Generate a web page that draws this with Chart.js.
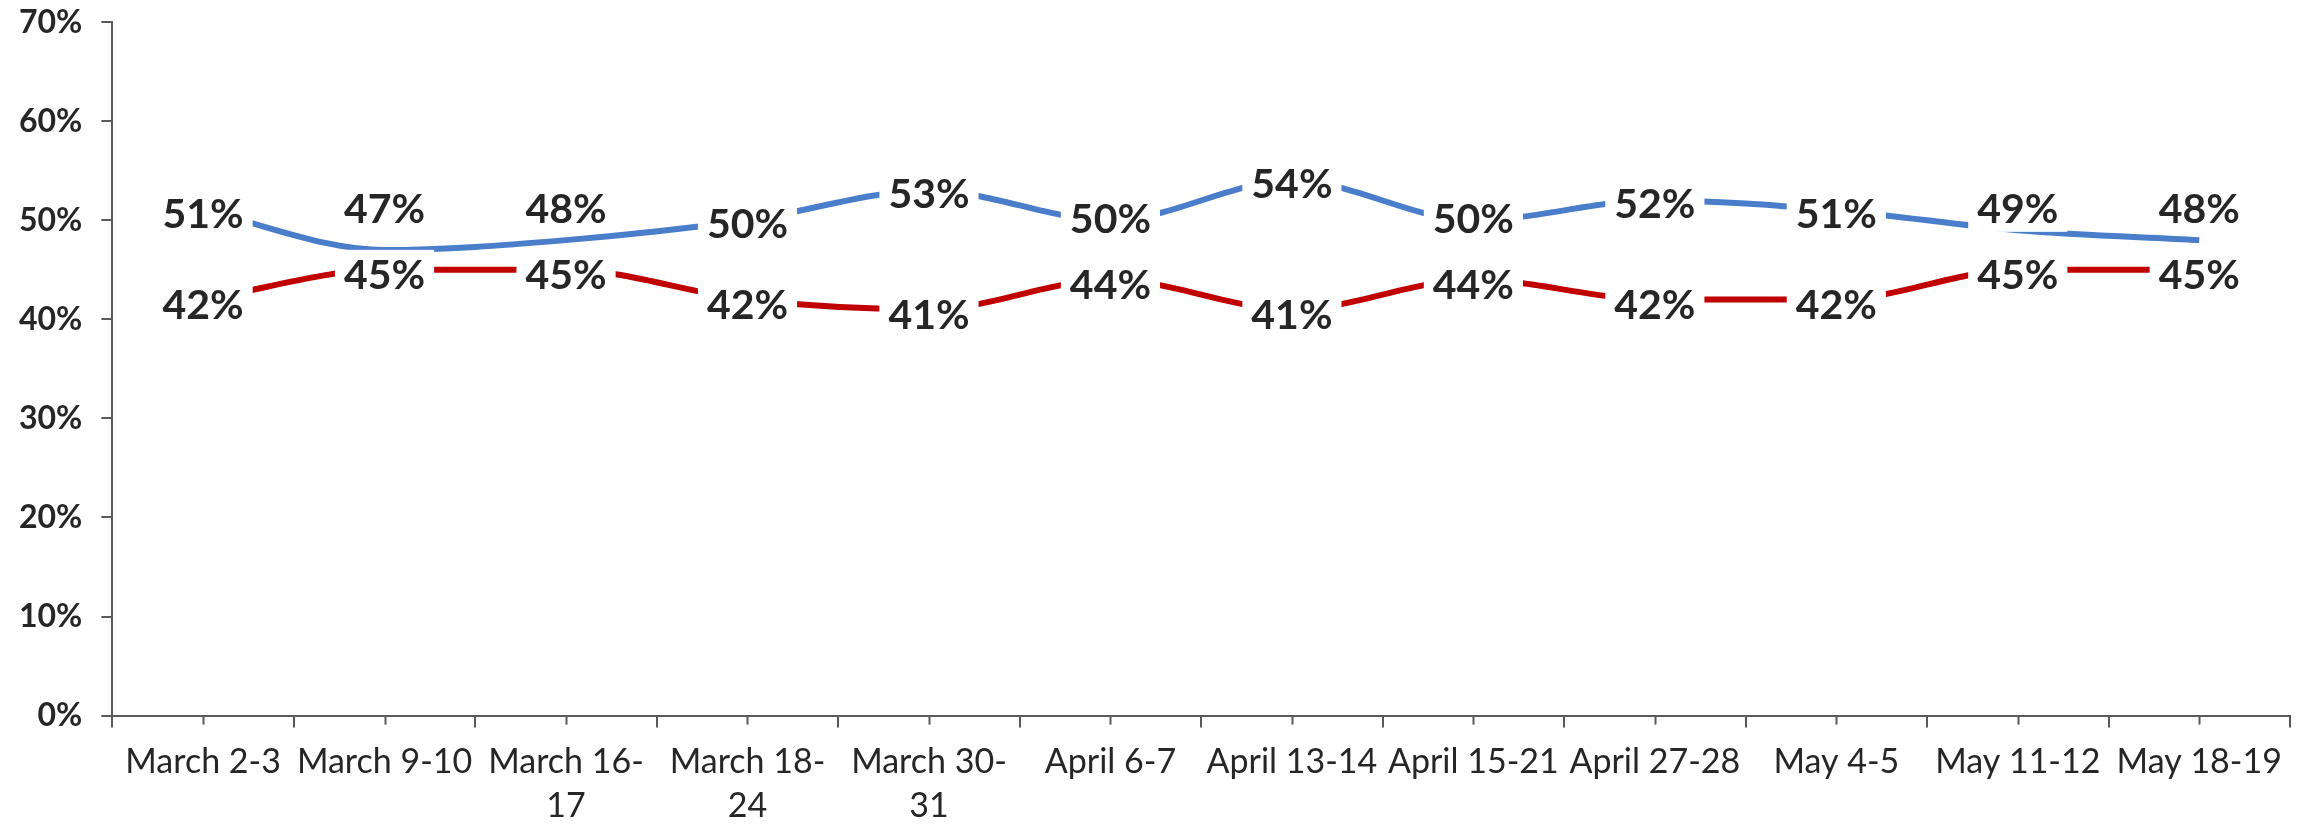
<!DOCTYPE html>
<html>
<head>
<meta charset="utf-8">
<script src="https://cdn.jsdelivr.net/npm/chart.js@4/dist/chart.umd.min.js"></script>
<style>
  html, body { margin: 0; padding: 0; background: #fff; }
</style>
</head>
<body>
<canvas id="pollChart" width="2308" height="825"></canvas>
<script>
// poll dates (some labels wrap onto two lines like the original)
var categories = ['March 2-3', 'March 9-10', ['March 16-', '17'], ['March 18-', '24'], ['March 30-', '31'],
  'April 6-7', 'April 13-14', 'April 15-21', 'April 27-28', 'May 4-5', 'May 11-12', 'May 18-19'];
var blueValues = [51, 47, 48, 50, 53, 50, 54, 50, 52, 51, 49, 48];
var redValues = [42, 45, 45, 42, 41, 44, 41, 44, 42, 42, 45, 45];
var yMax = 70;
var yStep = 10;

var axisGray = '#595959';
var textDark = '#262626';

// white-boxed value labels, pushed apart where the two series would collide
var valueLabels = {
  id: 'valueLabels',
  afterDatasetsDraw: function (chart) {
    var ctx = chart.ctx;
    var top = chart.getDatasetMeta(0).data;
    var bottom = chart.getDatasetMeta(1).data;
    ctx.save();
    ctx.font = 'bold 41px Lato';
    ctx.textAlign = 'center';
    ctx.textBaseline = 'middle';
    for (var i = 0; i < top.length; i++) {
      var redY = bottom[i].y + 4;
      var blueY = top[i].y + 2;
      if (blueY > redY - 66) blueY = redY - 66;
      var items = [
        [top[i].x, blueY, chart.data.datasets[0].data[i] + '%'],
        [bottom[i].x, redY, chart.data.datasets[1].data[i] + '%']
      ];
      items.forEach(function (it) {
        var w = ctx.measureText(it[2]).width + 18;
        ctx.fillStyle = '#fff';
        ctx.fillRect(it[0] - w / 2, it[1] - 24, w, 48);
        ctx.fillStyle = textDark;
        ctx.fillText(it[2], it[0], it[1] + 2);
      });
    }
    ctx.restore();
  },
  afterDraw: function (chart) {
    // short tick marks under each category
    var x = chart.scales.x;
    var ctx = chart.ctx;
    ctx.save();
    ctx.strokeStyle = axisGray;
    ctx.lineWidth = 2;
    for (var i = 0; i < categories.length; i++) {
      var px = Math.round(x.getPixelForValue(i)) + 0.5;
      ctx.beginPath();
      ctx.moveTo(px, x.top);
      ctx.lineTo(px, x.top + 9);
      ctx.stroke();
    }
    ctx.restore();
  }
};

var ctx = document.getElementById('pollChart').getContext('2d');
var pollChart = new Chart(ctx, {
  type: 'line',
  data: {
    labels: categories,
    datasets: [{
      data: blueValues,
      borderColor: '#4a7ecb',
      borderWidth: 6,
      cubicInterpolationMode: 'monotone',
      pointRadius: 0
    }, {
      data: redValues,
      borderColor: '#c00000',
      borderWidth: 6,
      cubicInterpolationMode: 'monotone',
      pointRadius: 0
    }]
  },
  options: {
    responsive: false,
    animation: false,
    layout: { padding: { top: 3, right: 18, left: 0, bottom: -15 } },
    plugins: {
      legend: { display: false },
      tooltip: { enabled: false }
    },
    scales: {
      x: {
        offset: true,
        grid: {
          offset: true,
          drawOnChartArea: false,
          tickLength: 12,
          color: axisGray,
          lineWidth: 2
        },
        border: { color: axisGray, width: 2 },
        ticks: {
          autoSkip: false,
          maxRotation: 0,
          padding: 12,
          color: textDark,
          font: { family: 'Lato', size: 34, lineHeight: 1.3 }
        }
      },
      y: {
        min: 0,
        max: yMax,
        grid: {
          drawOnChartArea: false,
          tickLength: 11,
          color: axisGray,
          lineWidth: 2
        },
        border: { color: axisGray, width: 2 },
        ticks: {
          stepSize: yStep,
          padding: 19,
          color: textDark,
          font: { family: 'Lato', size: 32, weight: 'bold', lineHeight: 0.2 },
          callback: function (v) { return v + '%'; }
        }
      }
    }
  },
  plugins: [valueLabels]
});
</script>
</body>
</html>
